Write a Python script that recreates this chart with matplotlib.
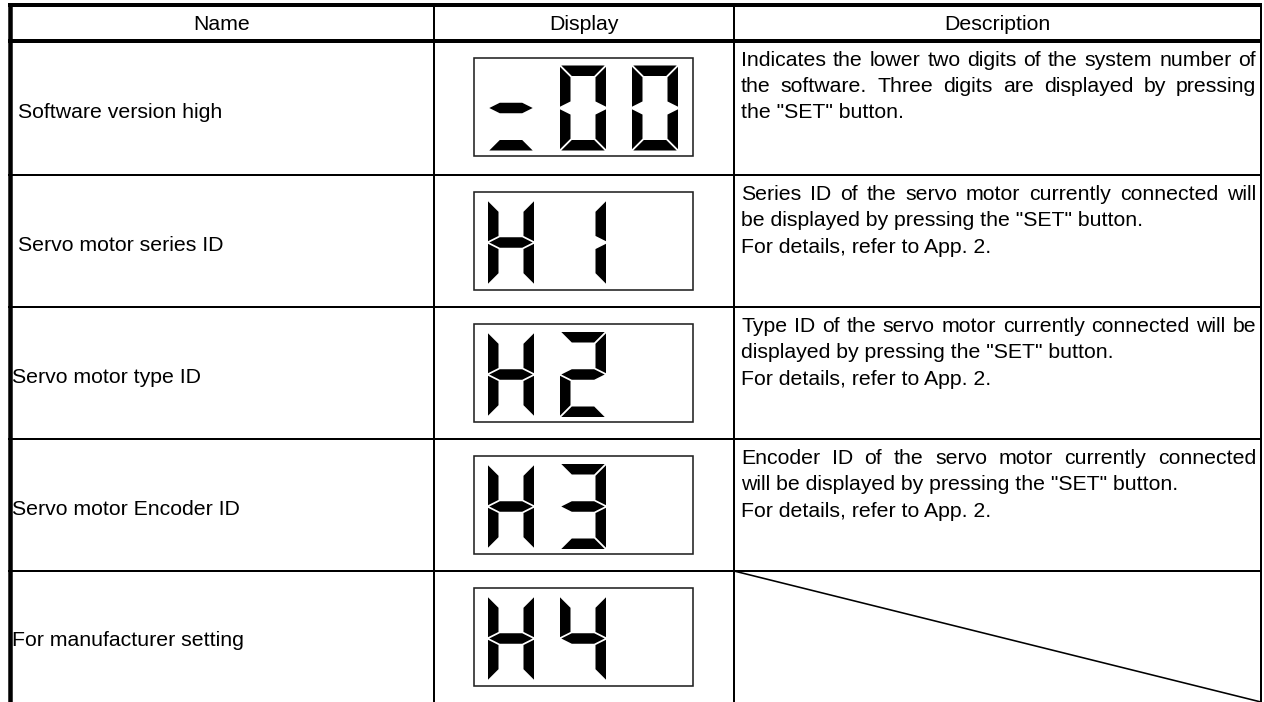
import matplotlib
matplotlib.use("Agg")
import matplotlib.pyplot as plt
from matplotlib.patches import Polygon, Rectangle

# table content
headers = ["Name", "Display", "Description"]
names = [
    "Software version high",
    "Servo motor series ID",
    "Servo motor type ID",
    "Servo motor Encoder ID",
    "For manufacturer setting",
]
displays = ["-00", "H1", "H2", "H3", "H4"]
descriptions = [
    [["Indicates the lower two digits of the system number of",
      "the software. Three digits are displayed by pressing",
      "the \"SET\" button."]],
    [["Series ID of the servo motor currently connected will",
      "be displayed by pressing the \"SET\" button."],
     ["For details, refer to App. 2."]],
    [["Type ID of the servo motor currently connected will be",
      "displayed by pressing the \"SET\" button."],
     ["For details, refer to App. 2."]],
    [["Encoder ID of the servo motor currently connected",
      "will be displayed by pressing the \"SET\" button."],
     ["For details, refer to App. 2."]],
    [],
]

# seven segment font (the dash is shown with the middle and bottom bars)
SEGMENTS = {
    "-": "gd", "0": "abcdef", "1": "bc", "2": "abged", "3": "abgcd",
    "4": "fgbc", "H": "bcefg", " ": "",
}

# layout in pixels
W, H = 1264, 702
col_x = [10, 434, 734, 1261]
row_y = [5, 40.5, 175, 307, 439, 571, 702]
name_x = [18, 18, 12, 12, 12]
FONT = "Liberation Sans"
FS = 15.3
PX = 0.72  # points per pixel at dpi 100

fig = plt.figure(figsize=(W / 100, H / 100), dpi=100)
ax = fig.add_axes([0, 0, 1, 1])
ax.set_xlim(0, W)
ax.set_ylim(H, 0)
ax.axis("off")


def hline(y, x0, x1, px):
    ax.plot([x0, x1], [y, y], color="black", lw=px * PX, solid_capstyle="butt")


def vline(x, y0, y1, px):
    ax.plot([x, x], [y0, y1], color="black", lw=px * PX, solid_capstyle="butt")


def segment_polys(x0, y0, w, h, t, g):
    m = y0 + h / 2
    return {
        "a": [(x0 + g, y0), (x0 + w - g, y0), (x0 + w - t - g, y0 + t), (x0 + t + g, y0 + t)],
        "d": [(x0 + t + g, y0 + h - t), (x0 + w - t - g, y0 + h - t), (x0 + w - g, y0 + h), (x0 + g, y0 + h)],
        "f": [(x0, y0 + g), (x0 + t, y0 + t + g), (x0 + t, m - t / 2 - g), (x0, m - g)],
        "e": [(x0, m + g), (x0 + t, m + t / 2 + g), (x0 + t, y0 + h - t - g), (x0, y0 + h - g)],
        "b": [(x0 + w, y0 + g), (x0 + w, m - g), (x0 + w - t, m - t / 2 - g), (x0 + w - t, y0 + t + g)],
        "c": [(x0 + w, m + g), (x0 + w, y0 + h - g), (x0 + w - t, y0 + h - t - g), (x0 + w - t, m + t / 2 + g)],
        "g": [(x0 + g, m), (x0 + t + g, m - t / 2), (x0 + w - t - g, m - t / 2), (x0 + w - g, m),
              (x0 + w - t - g, m + t / 2), (x0 + t + g, m + t / 2)],
    }


renderer = fig.canvas.get_renderer()


def justified(line, x0, x1, y):
    words = line.split(" ")
    arts = [ax.text(0, y, wd, fontsize=FS, family=FONT, va="baseline") for wd in words]
    widths = [a.get_window_extent(renderer).width for a in arts]
    space = (x1 - x0 - sum(widths)) / (len(words) - 1)
    x = x0
    for a, wd in zip(arts, widths):
        a.set_x(x)
        x += wd + space


# header text
for i, hd in enumerate(headers):
    ax.text((col_x[i] + col_x[i + 1]) / 2, 30.5, hd, fontsize=FS, family=FONT,
            ha="center", va="baseline")

for r in range(len(names)):
    top, bot = row_y[r + 1], row_y[r + 2]
    mid = (top + bot) / 2
    ax.text(name_x[r], mid + 10, names[r], fontsize=FS, family=FONT, va="baseline")

    # display box
    by = top + 17
    ax.add_patch(Rectangle((474, by), 219, 98, fill=False, ec="#222222", lw=1.6 * PX))
    for k, ch in enumerate(displays[r]):
        dx = [488, 560, 632][k]
        polys = segment_polys(dx, by + 8, 46, 85, 10.5, 1.3)
        for s in SEGMENTS[ch]:
            ax.add_patch(Polygon(polys[s], closed=True, fc="black", ec="none"))

    # description text
    ln = 0
    for para in descriptions[r]:
        for j, line in enumerate(para):
            y = top + 25 + ln * 26.5
            if j < len(para) - 1:
                justified(line, 741, 1256, y)
            else:
                ax.text(741, y, line, fontsize=FS, family=FONT, va="baseline")
            ln += 1

# grid lines
hline(5, 8, 1262, 4)
hline(40.5, 8, 1262, 4)
for y in row_y[2:6]:
    hline(y, 8, 1262, 2)
vline(9.5, 3, 702, 4.5)
vline(col_x[1], 5, 702, 2)
vline(col_x[2], 5, 702, 2)
vline(1261, 3, 702, 2)

# empty description cell of the last row
ax.plot([col_x[2], 1261], [row_y[5], 702], color="black", lw=1.6 * PX)

fig.savefig("out.png", dpi=100)
